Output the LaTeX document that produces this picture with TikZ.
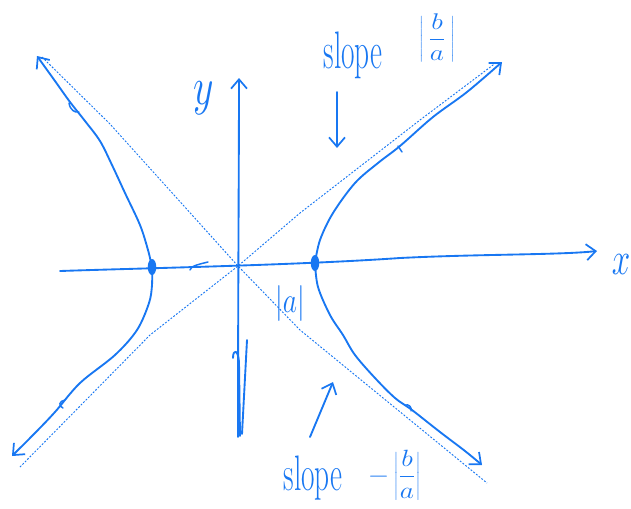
\documentclass[tikz,border=0pt]{standalone}
\usetikzlibrary{arrows.meta}
\definecolor{hb}{RGB}{24,119,242}
\begin{document}
\begin{tikzpicture}[x=0.75pt,y=-0.75pt,
  pen/.style={draw=hb, line width=1.4pt, line cap=round, line join=round},
  thinpen/.style={draw=hb, line width=1.1pt, line cap=round, line join=round},
  asym/.style={draw=hb, line width=0.7pt, dash pattern=on 1.4pt off 1.2pt},
  barb/.style={-{Straight Barb[length=7pt,width=12pt,line width=1.3pt]}},
  lbl/.style={text=hb, inner sep=0pt, outer sep=0pt},
  vdot/.style={fill=hb}]
\useasboundingbox (0,0) rectangle (631,508);

% key points
\coordinate (O) at (238,266);
\coordinate (xL) at (60,271);
\coordinate (xR) at (597,251);
\coordinate (yB) at (238,437);
\coordinate (yT) at (239,78);
\coordinate (aTL) at (42,57);
\coordinate (aBR) at (487,483);
\coordinate (aBL) at (20,467);
\coordinate (aTR) at (497,62);
\coordinate (vL) at (152,267);
\coordinate (vR) at (315,263);
\coordinate (bTL) at (37,56);
\coordinate (bBL) at (12,456);
\coordinate (bTR) at (502,62);
\coordinate (bBR) at (482,465);

% asymptotes
\draw[asym] (aTL) -- (110,124) -- (O) -- (300,330) -- (aBR);
\draw[asym] (aBL) -- (150,335) -- (O) -- (300,213) -- (420,120) -- (aTR);

% axes
\draw[pen,barb] (xL) .. controls (150,268) and (300,265) .. (400,258)
  .. controls (480,254) and (560,255) .. (xR);
\draw[pen,barb] (yB) .. controls (238,300) and (239,150) .. (yT);
\draw[pen] (233,358) .. controls (233,349) and (238,349) .. (239,362) -- (240,436);
\draw[pen] (247,340) -- (242,434);

% hyperbola branches
\draw[pen,barb] plot[smooth,tension=0.55] coordinates {(vR) (320,240) (333,213) (355,183) (378,163) (400,146) (433,117) (467,92) (bTR)};
\draw[pen,barb] plot[smooth,tension=0.55] coordinates {(vR) (318,287) (330,315) (343,335) (355,355) (375,378) (395,398) (412,410) (440,432) (465,451) (bBR)};
\draw[pen,barb] plot[smooth,tension=0.55] coordinates {(vL) (148,250) (140,225) (125,193) (112,165) (100,141) (85,121) (70,102) (55,81) (bTL)};
\draw[pen,barb] plot[smooth,tension=0.55] coordinates {(vL) (152,285) (149,303) (137,330) (115,355) (80,383) (55,412) (35,433) (bBL)};

% vertices
\fill[vdot] (vL) ellipse [x radius=3.2pt, y radius=6pt];
\fill[vdot] (vR) ellipse [x radius=3.2pt, y radius=6pt];

% small direction ticks
\draw[thinpen] (69,103) .. controls (70,110) and (75,113) .. (79,112);
\draw[thinpen] (398,146) -- (402,152);
\draw[thinpen] (405,405) .. controls (409,404) and (412,407) .. (411,411);
\draw[thinpen] (65,400) .. controls (59,401) and (58,406) .. (63,408);
\draw[thinpen] (190,270) .. controls (190,266) and (200,264) .. (208,262);

% labels
\node[lbl, font=\fontsize{24}{28}\selectfont] (ylab) at (204,98) {\scalebox{1.2}[1.6]{$y$}};
\node[lbl, font=\fontsize{24}{28}\selectfont] (xlab) at (621,264) {\scalebox{1}[1.4]{$x$}};
\node[lbl, font=\fontsize{22}{26}\selectfont, anchor=base] (slopeT) at (353,68) {\scalebox{1}[1.8]{slope}};
\node[lbl, font=\fontsize{22}{26}\selectfont] (fracT) at (437,38) {\scalebox{1}[0.82]{$\displaystyle\left|\,\frac{b}{a}\,\right|$}};
\node[lbl, font=\fontsize{22}{26}\selectfont, anchor=base] (slopeB) at (313,490) {\scalebox{1}[1.7]{slope}};
\node[lbl, font=\fontsize{20}{24}\selectfont] (fracB) at (394,475) {\scalebox{1}[0.85]{$\displaystyle-\left|\frac{b}{a}\right|$}};
\node[lbl, font=\fontsize{20}{24}\selectfont] (alab) at (290,304) {\scalebox{1}[1.3]{$|a|$}};

% pointer arrows
\coordinate (pT1) at (337,92);
\coordinate (pT2) at (337,148);
\coordinate (pB1) at (310,437);
\coordinate (pB2) at (333,382);
\draw[pen,barb] (pT1) -- (pT2);
\draw[pen,barb] (pB1) -- (pB2);
\end{tikzpicture}
\end{document}
